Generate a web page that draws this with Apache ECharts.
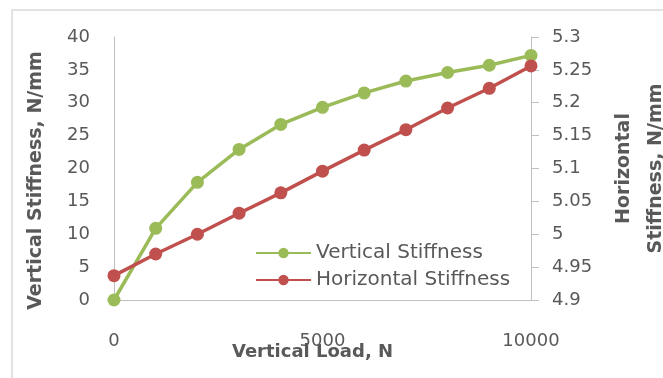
<!DOCTYPE html>
<html>
<head>
<meta charset="utf-8">
<script src="https://cdn.jsdelivr.net/npm/echarts@6/dist/echarts.min.js"></script>
<style>
  html, body { margin: 0; padding: 0; background: #fff; }
  #main { width: 663px; height: 378px; }
</style>
</head>
<body>
<div id="main"></div>
<script>
var loads = [0, 1000, 2000, 3000, 4000, 5000, 6000, 7000, 8000, 9000, 10000];
var verticalStiffness = [0, 10.9, 17.9, 22.9, 26.7, 29.3, 31.5, 33.3, 34.6, 35.7, 37.2];
var horizontalStiffness = [4.937, 4.970, 5.000, 5.032, 5.063, 5.096, 5.128, 5.159, 5.192, 5.222, 5.256];

var labelColor = '#595959';
var fontName = 'DejaVu Sans';

var chart = echarts.init(document.getElementById('main'));
chart.setOption({
  animation: false,
  textStyle: { fontFamily: fontName },
  graphic: [{
    type: 'rect',
    shape: { x: 12, y: 10, width: 700, height: 420 },
    style: { fill: 'none', stroke: '#d9d9d9', lineWidth: 1.5 },
    silent: true
  }],
  grid: { left: 114, right: 132, top: 37, bottom: 78, outerBoundsMode: 'none', containLabel: false },
  legend: {
    left: 250, top: 238,
    orient: 'vertical',
    itemWidth: 55, itemHeight: 13, itemGap: 7,
    textStyle: { color: labelColor, fontSize: 20, fontFamily: fontName },
    data: ['Vertical Stiffness', 'Horizontal Stiffness']
  },
  xAxis: {
    type: 'value', min: 0, max: 10000, interval: 5000,
    name: 'Vertical Load, N',
    nameLocation: 'middle', nameGap: 43, nameMoveOverlap: false,
    nameTextStyle: { color: labelColor, fontSize: 18, fontWeight: 'bold', padding: [0, 20, 0, 0] },
    axisLine: { show: true, lineStyle: { color: '#bfbfbf', width: 1 } },
    axisTick: { show: false },
    axisLabel: { color: labelColor, fontSize: 18, margin: 32, formatter: function (v) { return String(v); } },
    splitLine: { show: false }
  },
  yAxis: [{
    type: 'value', min: 0, max: 40, interval: 5,
    name: 'Vertical Stiffness, N/mm',
    nameLocation: 'middle', nameGap: 68, nameRotate: 90, nameMoveOverlap: false,
    nameTextStyle: { color: labelColor, fontSize: 19, fontWeight: 'bold', padding: [0, 24, 0, 0] },
    axisLine: { show: true, lineStyle: { color: '#bfbfbf', width: 1 } },
    axisTick: { show: false },
    axisLabel: { color: labelColor, fontSize: 18, margin: 24 },
    splitLine: { show: false }
  }, {
    type: 'value', min: 4.9, max: 5.3, interval: 0.05,
    position: 'right',
    name: 'Horizontal\nStiffness, N/mm',
    nameLocation: 'middle', nameGap: 77, nameRotate: 90, nameMoveOverlap: false,
    nameTextStyle: { color: labelColor, fontSize: 19, fontWeight: 'bold', lineHeight: 32 },
    axisLine: { show: true, lineStyle: { color: '#bfbfbf', width: 1 } },
    axisTick: { show: true, length: 8, lineStyle: { color: '#bfbfbf' } },
    axisLabel: {
      color: labelColor, fontSize: 18, margin: 21,
      formatter: function (v) { return String(+v.toFixed(2)); }
    },
    splitLine: { show: false }
  }],
  series: [{
    name: 'Vertical Stiffness',
    type: 'line',
    yAxisIndex: 0,
    data: loads.map(function (x, i) { return [x, verticalStiffness[i]]; }),
    symbol: 'circle', symbolSize: 13,
    itemStyle: { color: '#9bbb59' },
    lineStyle: { color: '#9bbb59', width: 3.5 }
  }, {
    name: 'Horizontal Stiffness',
    type: 'line',
    yAxisIndex: 1,
    data: loads.map(function (x, i) { return [x, horizontalStiffness[i]]; }),
    symbol: 'circle', symbolSize: 13,
    itemStyle: { color: '#c0504d' },
    lineStyle: { color: '#c0504d', width: 3.5 }
  }]
});
</script>
</body>
</html>
